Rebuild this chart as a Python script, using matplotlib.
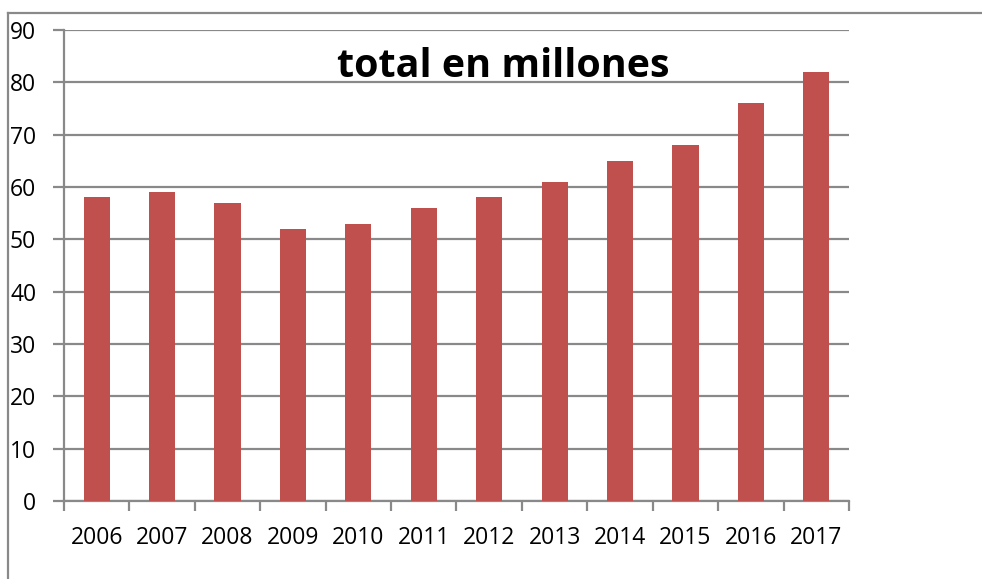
import matplotlib
matplotlib.use("Agg")
import matplotlib.pyplot as plt
from matplotlib.lines import Line2D
import numpy as np

years = ["2006", "2007", "2008", "2009", "2010", "2011", "2012", "2013", "2014", "2015", "2016", "2017"]
values = [58, 59, 57, 52, 53, 56, 58, 61, 65, 68, 76, 82]
yticks = [0, 10, 20, 30, 40, 50, 60, 70, 80, 90]
title = "total en millones"

W, H = 982, 579
fig = plt.figure(figsize=(W / 100, H / 100), dpi=100)
plt.rcParams['font.family'] = ['Open Sans', 'DejaVu Sans']

gray = "#898989"
# outer chart border (partially visible)
fig.add_artist(Line2D([8 / W, 1], [1 - 13 / H, 1 - 13 / H], color=gray, lw=1.6, transform=fig.transFigure))
fig.add_artist(Line2D([8 / W, 8 / W], [0, 1 - 13 / H], color=gray, lw=1.6, transform=fig.transFigure))

ax = fig.add_axes([64 / W, 78 / H, (849 - 64) / W, (501 - 30) / H])
x = np.arange(len(years))
ax.bar(x, values, width=0.4, color="#C0504D", zorder=3)
ax.set_xlim(-0.5, len(years) - 0.5)
ax.set_ylim(0, 90)
ax.set_yticks(yticks)
ax.set_yticklabels([str(v) for v in yticks], fontsize=16.5)
ax.yaxis.grid(True, color=gray, lw=1.6, zorder=0)
ax.tick_params(axis='y', length=8, color=gray, width=1.6, pad=12)

ax.set_xticks(x)
ax.set_xticklabels(years, fontsize=16.5)
ax.set_xticks(np.arange(-0.5, len(years)), minor=True)
ax.tick_params(axis='x', which='major', length=0, pad=18)
ax.tick_params(axis='x', which='minor', length=7, color=gray, width=1.6)

for s in ['top', 'right']:
    ax.spines[s].set_visible(False)
for s in ['left', 'bottom']:
    ax.spines[s].set_color(gray)
    ax.spines[s].set_linewidth(1.6)

ax.text(0.559, 0.922, title, transform=ax.transAxes, ha='center', va='center',
        fontsize=28.4, fontweight='bold')

fig.savefig("out.png", dpi=100)
